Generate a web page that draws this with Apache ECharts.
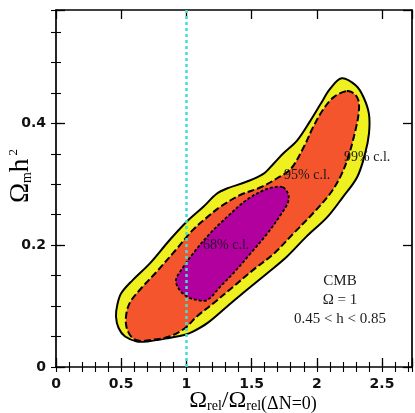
<!DOCTYPE html>
<html>
<head>
<meta charset="utf-8">
<script src="https://cdn.jsdelivr.net/npm/echarts@6/dist/echarts.min.js"></script>
<style>
  html, body { margin: 0; padding: 0; background: #fff; }
  #chart { width: 415px; height: 413px; }
</style>
</head>
<body>
<div id="chart"></div>
<script>
// axis ranges and tick labels
const xMax = 2.73
const yMax = 0.586
const xTickLabels = ['0', '0.5', '1', '1.5', '2', '2.5']
const yTickLabels = ['0', '0.2', '0.4']

// contour outlines [Omega_rel ratio, Omega_m h^2]
const contour99 = [
  [2.19, 0.474], [2.30, 0.462], [2.36, 0.442], [2.40, 0.415], [2.40, 0.383],
  [2.37, 0.350], [2.31, 0.312], [2.20, 0.279], [2.08, 0.246], [1.92, 0.214],
  [1.77, 0.181], [1.62, 0.154], [1.46, 0.126], [1.31, 0.099], [1.16, 0.072],
  [1.05, 0.058], [0.99, 0.053], [0.85, 0.047], [0.70, 0.042], [0.62, 0.042],
  [0.53, 0.050], [0.48, 0.064], [0.46, 0.083], [0.47, 0.102], [0.50, 0.121],
  [0.59, 0.143], [0.72, 0.170], [0.87, 0.208], [1.00, 0.238], [1.13, 0.263],
  [1.23, 0.284], [1.31, 0.293], [1.46, 0.304], [1.59, 0.317], [1.67, 0.334],
  [1.74, 0.350], [1.85, 0.372], [1.95, 0.404], [2.03, 0.432], [2.10, 0.456]
]
const contour95 = [
  [2.23, 0.453], [2.29, 0.448], [2.32, 0.437], [2.32, 0.415], [2.29, 0.383],
  [2.24, 0.344], [2.18, 0.312], [2.10, 0.284], [1.97, 0.252], [1.82, 0.219],
  [1.67, 0.186], [1.51, 0.159], [1.36, 0.132], [1.21, 0.105], [1.08, 0.083],
  [0.99, 0.064], [0.87, 0.050], [0.75, 0.045], [0.64, 0.043], [0.58, 0.049],
  [0.54, 0.066], [0.54, 0.088], [0.57, 0.107], [0.64, 0.126], [0.77, 0.156],
  [0.93, 0.195], [1.05, 0.225], [1.16, 0.246], [1.26, 0.263], [1.41, 0.282],
  [1.57, 0.295], [1.69, 0.309], [1.80, 0.325], [1.90, 0.361], [1.97, 0.393],
  [2.05, 0.423], [2.13, 0.443]
]
const contour68 = [
  [1.74, 0.295], [1.78, 0.284], [1.78, 0.271], [1.73, 0.252], [1.62, 0.219],
  [1.49, 0.186], [1.36, 0.154], [1.26, 0.132], [1.16, 0.110], [1.08, 0.110],
  [1.00, 0.116], [0.94, 0.129], [0.92, 0.143], [0.96, 0.159], [1.05, 0.186],
  [1.18, 0.219], [1.31, 0.246], [1.46, 0.274], [1.59, 0.290], [1.67, 0.295]
]
const refLineX = 1

const chart = echarts.init(document.getElementById('chart'))

const tickFont = { fontFamily: 'DejaVu Sans', fontWeight: 'bold', fontSize: 14, color: '#111' }
const blackLine = { color: '#000', width: 1.7 }

function labelFmt(step, labels) {
  return function (v) {
    const r = Math.round(v / step)
    if (Math.abs(v - r * step) > 1e-6) return ''
    return labels[r] || ''
  }
}

function makeAxes(max, major, minor, labels, sides) {
  const axes = []
  sides.forEach(function (side, i) {
    axes.push({
      type: 'value', min: 0, max: max, interval: major, position: side,
      axisLine: { show: true, onZero: false, lineStyle: blackLine },
      axisTick: { inside: true, length: 9, lineStyle: { color: '#000', width: 1.3 } },
      axisLabel: i === 0
        ? Object.assign({ show: true, margin: 10, formatter: labelFmt(major, labels) }, tickFont)
        : { show: false },
      splitLine: { show: false }
    })
    axes.push({
      type: 'value', min: 0, max: max, interval: minor, position: side,
      axisLine: { show: false },
      axisTick: { inside: true, length: 5, lineStyle: { color: '#000', width: 1.1 } },
      axisLabel: { show: false },
      splitLine: { show: false }
    })
  })
  return axes
}

// filled contour drawn through the cartesian coordinates
function contourSeries(points, fill, dash, width, z) {
  return {
    type: 'custom',
    xAxisIndex: 0, yAxisIndex: 0,
    z: z,
    data: points,
    renderItem: function (params, api) {
      if (params.dataIndex !== 0) return
      return {
        type: 'polygon',
        shape: { points: points.map(function (p) { return api.coord(p) }), smooth: 0.35 },
        style: { fill: fill, stroke: '#000', lineWidth: width, lineDash: dash }
      }
    }
  }
}

const serif = 'Liberation Serif'

const option = {
  animation: false,
  backgroundColor: '#fff',
  grid: { left: 56, right: 3, top: 10, bottom: 46 },
  xAxis: makeAxes(xMax, 0.5, 0.1, xTickLabels, ['bottom', 'top']),
  yAxis: makeAxes(yMax, 0.2, 0.05, yTickLabels, ['left', 'right']),
  series: [
    contourSeries(contour99, '#eef020', null, 2, 2),
    contourSeries(contour95, '#f4552c', [7, 3], 2, 3),
    contourSeries(contour68, '#b1009e', [3, 2], 1.8, 4),
    {
      type: 'line', data: [], z: 6,
      markLine: {
        silent: true, symbol: 'none', label: { show: false },
        lineStyle: { color: '#3fe0d4', type: [3, 3], width: 2.5 },
        data: [{ xAxis: refLineX }]
      }
    }
  ],
  graphic: [
    {
      type: 'text', x: 21, y: 176, rotation: Math.PI / 2, z: 10,
      style: {
        text: '{a|Ω}{s|m}{a|h}{p| 2}', align: 'center', verticalAlign: 'middle',
        rich: {
          a: { fontFamily: serif, fontSize: 27, color: '#222', verticalAlign: 'bottom' },
          s: { fontFamily: serif, fontSize: 14, color: '#222', verticalAlign: 'bottom' },
          p: { fontFamily: serif, fontSize: 13, color: '#222', verticalAlign: 'top' }
        }
      }
    },
    {
      type: 'text', x: 253, y: 401, z: 10,
      style: {
        text: '{a|Ω}{s|rel}{a|/Ω}{s|rel}{m|(ΔN=0)}', align: 'center', verticalAlign: 'middle',
        rich: {
          a: { fontFamily: serif, fontSize: 24, color: '#222', verticalAlign: 'bottom' },
          s: { fontFamily: serif, fontSize: 14, color: '#222', verticalAlign: 'bottom' },
          m: { fontFamily: serif, fontSize: 18, color: '#222', verticalAlign: 'bottom' }
        }
      }
    },
    { type: 'text', x: 344, y: 157, z: 10, style: { text: '99% c.l.', font: '14px ' + serif, fill: '#1a1a1a', verticalAlign: 'middle' } },
    { type: 'text', x: 284, y: 175, z: 10, style: { text: '95% c.l.', font: '14px ' + serif, fill: '#1a1a1a', verticalAlign: 'middle' } },
    { type: 'text', x: 203, y: 245, z: 10, style: { text: '68% c.l.', font: '14px ' + serif, fill: '#2a0a2a', verticalAlign: 'middle' } },
    { type: 'text', x: 340, y: 281, z: 10, style: { text: 'CMB', font: '15px ' + serif, fill: '#1a1a1a', align: 'center', verticalAlign: 'middle' } },
    { type: 'text', x: 340, y: 300, z: 10, style: { text: 'Ω = 1', font: '15px ' + serif, fill: '#1a1a1a', align: 'center', verticalAlign: 'middle' } },
    { type: 'text', x: 340, y: 319, z: 10, style: { text: '0.45 < h < 0.85', font: '15px ' + serif, fill: '#1a1a1a', align: 'center', verticalAlign: 'middle' } }
  ]
}

chart.setOption(option)
</script>
</body>
</html>
